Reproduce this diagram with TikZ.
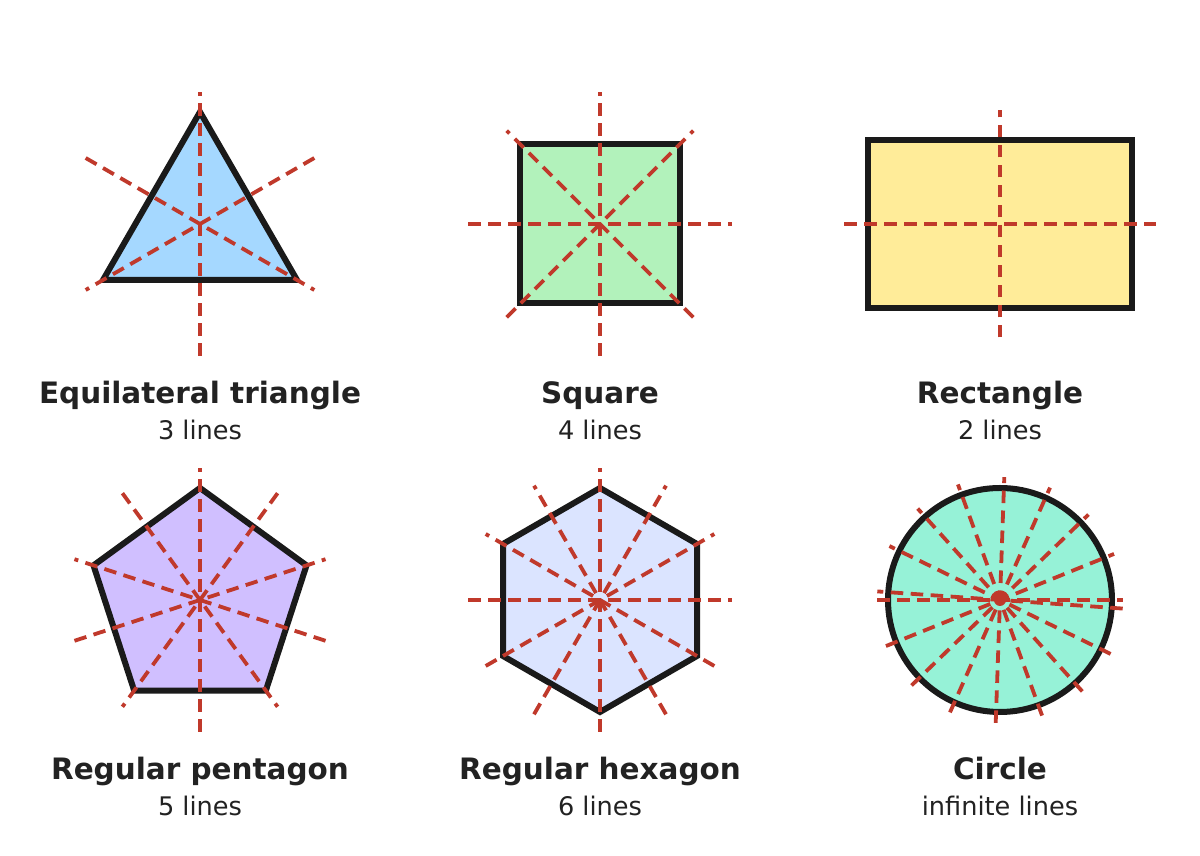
\documentclass[tikz,border=0pt]{standalone}
\usepackage{fontspec}
\setmainfont{DejaVu Sans}
\definecolor{ink}{HTML}{1A1A1A}
\definecolor{sym}{HTML}{C0392B}
\definecolor{txt}{HTML}{222222}
\definecolor{triF}{HTML}{A5D8FF}
\definecolor{sqF}{HTML}{B2F2BB}
\definecolor{recF}{HTML}{FFEC99}
\definecolor{penF}{HTML}{D0BFFF}
\definecolor{hexF}{HTML}{DBE4FF}
\definecolor{cirF}{HTML}{96F2D7}
\begin{document}
\begin{tikzpicture}[x=0.75pt,y=0.75pt,
  outline/.style={draw=ink,line width=4.5pt,line join=miter},
  symline/.style={draw=sym,line width=2.85pt,dash pattern=on 9.4pt off 5.6pt},
  titletext/.style={font=\bfseries\fontsize{22.1}{26}\selectfont,text=txt,anchor=base,inner sep=0pt},
  subtext/.style={font=\fontsize{19.2}{23}\selectfont,text=txt,anchor=base,inner sep=0pt}]
\useasboundingbox (0,0) rectangle (1200,856);
\fill[white] (0,0) rectangle (1200,856);

% Equilateral triangle
\begin{scope}[shift={(200,632)}]
  \filldraw[outline,fill=triF] (90:112) -- (210:112) -- (330:112) -- cycle;
  \foreach \a in {90,210,330} \draw[symline] (\a+180:132) -- (\a:132);
\end{scope}

% Square
\begin{scope}[shift={(600,632)}]
  \filldraw[outline,fill=sqF] (-80,-79.5) rectangle (80,79.5);
  \foreach \a in {0,45,90,135} \draw[symline] (\a+180:132) -- (\a:132);
\end{scope}

% Rectangle
\begin{scope}[shift={(1000,632)}]
  \filldraw[outline,fill=recF] (-132,-84) rectangle (132,84);
  \draw[symline] (-156,0) -- (156,0);
  \draw[symline] (0,-113.5) -- (0,113.5);
\end{scope}

% Regular pentagon
\begin{scope}[shift={(200,256)}]
  \filldraw[outline,fill=penF] (90:112) -- (162:112) -- (234:112) -- (306:112) -- (18:112) -- cycle;
  \foreach \a in {90,162,234,306,18} \draw[symline] (\a+180:132) -- (\a:132);
\end{scope}

% Regular hexagon
\begin{scope}[shift={(600,256)}]
  \filldraw[outline,fill=hexF] (90:112) -- (150:112) -- (210:112) -- (270:112) -- (330:112) -- (30:112) -- cycle;
  \foreach \a in {0,30,60,90,120,150} \draw[symline] (\a+180:132) -- (\a:132);
\end{scope}

% Circle
\begin{scope}[shift={(1000,256)}]
  \filldraw[outline,fill=cirF] (0,0) circle (112);
  \foreach \k in {0,...,8} \draw[symline] (22*\k+180:123) -- (22*\k:123);
  \fill[sym] (0,0) circle (6);
\end{scope}

% Labels
\node[titletext] (t1) at (200,452) {Equilateral triangle};
\node[subtext] (s1) at (200,416) {3 lines};
\node[titletext] (t2) at (600,452) {Square};
\node[subtext] (s2) at (600,416) {4 lines};
\node[titletext] (t3) at (1000,452) {Rectangle};
\node[subtext] (s3) at (1000,416) {2 lines};
\node[titletext] (t4) at (200,76) {Regular pentagon};
\node[subtext] (s4) at (200,40) {5 lines};
\node[titletext] (t5) at (600,76) {Regular hexagon};
\node[subtext] (s5) at (600,40) {6 lines};
\node[titletext] (t6) at (1000,76) {Circle};
\node[subtext] (s6) at (1000,40) {infinite lines};
\end{tikzpicture}
\end{document}
